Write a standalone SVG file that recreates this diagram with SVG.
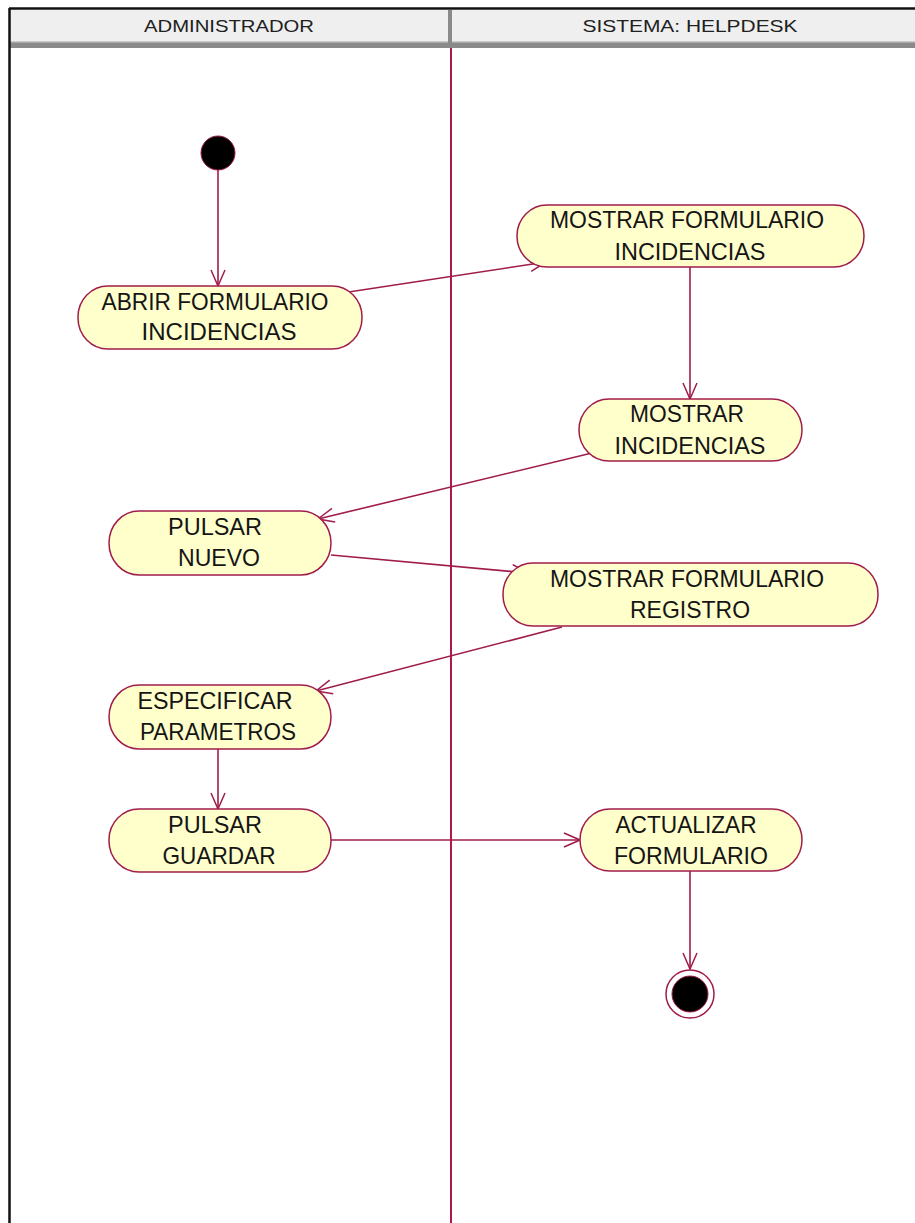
<svg xmlns="http://www.w3.org/2000/svg" width="915" height="1223" viewBox="0 0 915 1223">
  <style>
    .act { fill: #ffffcb; stroke: #a01c4c; stroke-width: 1.5; }
    .lbl { font-family: "Liberation Sans", Arial, sans-serif; font-size: 24px; fill: #151515; text-anchor: middle; }
    .hdr { font-family: "Liberation Sans", Arial, sans-serif; font-size: 17px; fill: #202020; text-anchor: middle; }
    .flow { stroke: #a01c4c; stroke-width: 1.6; fill: none; marker-end: url(#open); }
  </style>
  <defs>
    <marker id="open" viewBox="0 0 18 16" refX="17" refY="8" markerWidth="18" markerHeight="16" markerUnits="userSpaceOnUse" orient="auto">
      <path d="M1,1 L17,8 L1,15" fill="none" stroke="#a01c4c" stroke-width="1.5"/>
    </marker>
  </defs>

  <rect width="915" height="1223" fill="#ffffff"/>

  <!-- swimlane frame and headers -->
  <g id="lanes">
    <rect x="10" y="10" width="905" height="33" fill="#efefef"/>
    <rect x="10" y="42" width="905" height="6" fill="#8a8a8a"/>
    <rect x="10" y="41" width="905" height="1.5" fill="#c8c8c8"/>
    <rect x="448" y="10" width="4" height="33" fill="#8a8a8a"/>
    <line x1="9" y1="8.5" x2="915" y2="8.5" stroke="#111" stroke-width="2.5"/>
    <line x1="9.5" y1="8" x2="9.5" y2="1223" stroke="#111" stroke-width="2.5"/>
    <line x1="451" y1="48" x2="451" y2="1223" stroke="#b0174f" stroke-width="2"/>
    <text class="hdr" x="229" y="32" textLength="170" lengthAdjust="spacingAndGlyphs">ADMINISTRADOR</text>
    <text class="hdr" x="690" y="32" textLength="215" lengthAdjust="spacingAndGlyphs">SISTEMA: HELPDESK</text>
  </g>

  <!-- control flows -->
  <g id="connectors">
    <line class="flow" x1="218" y1="170" x2="218" y2="286"/>
    <line class="flow" x1="342" y1="293" x2="546" y2="262"/>
    <line class="flow" x1="690" y1="267" x2="690" y2="399"/>
    <line class="flow" x1="592" y1="453" x2="318" y2="519"/>
    <line class="flow" x1="331" y1="555" x2="528" y2="573"/>
    <line class="flow" x1="562" y1="627" x2="316" y2="691"/>
    <line class="flow" x1="218" y1="749" x2="218" y2="809"/>
    <line class="flow" x1="331" y1="840" x2="580" y2="840"/>
    <line class="flow" x1="690" y1="871" x2="690" y2="969"/>
  </g>

  <g id="start">
    <circle cx="218" cy="153" r="17" fill="#000" stroke="#a01c4c" stroke-width="1"/>
  </g>

  <g id="abrir-formulario">
    <rect class="act" x="78" y="286" width="284" height="63" rx="30" ry="31"/>
    <text class="lbl" x="215" y="310" textLength="227" lengthAdjust="spacingAndGlyphs">ABRIR FORMULARIO</text>
    <text class="lbl" x="219" y="340" textLength="155" lengthAdjust="spacingAndGlyphs">INCIDENCIAS</text>
  </g>

  <g id="mostrar-formulario-incidencias">
    <rect class="act" x="517" y="205" width="347" height="62" rx="30" ry="31"/>
    <text class="lbl" x="687" y="228" textLength="274" lengthAdjust="spacingAndGlyphs">MOSTRAR FORMULARIO</text>
    <text class="lbl" x="690" y="260" textLength="151" lengthAdjust="spacingAndGlyphs">INCIDENCIAS</text>
  </g>

  <g id="mostrar-incidencias">
    <rect class="act" x="579" y="399" width="223" height="62" rx="30" ry="31"/>
    <text class="lbl" x="687" y="422" textLength="114" lengthAdjust="spacingAndGlyphs">MOSTRAR</text>
    <text class="lbl" x="690" y="454" textLength="151" lengthAdjust="spacingAndGlyphs">INCIDENCIAS</text>
  </g>

  <g id="pulsar-nuevo">
    <rect class="act" x="109" y="511" width="222" height="64" rx="30" ry="32"/>
    <text class="lbl" x="215" y="535" textLength="94" lengthAdjust="spacingAndGlyphs">PULSAR</text>
    <text class="lbl" x="219" y="566" textLength="82" lengthAdjust="spacingAndGlyphs">NUEVO</text>
  </g>

  <g id="mostrar-formulario-registro">
    <rect class="act" x="503" y="563" width="375" height="63" rx="30" ry="31"/>
    <text class="lbl" x="687" y="587" textLength="274" lengthAdjust="spacingAndGlyphs">MOSTRAR FORMULARIO</text>
    <text class="lbl" x="690" y="618" textLength="120" lengthAdjust="spacingAndGlyphs">REGISTRO</text>
  </g>

  <g id="especificar-parametros">
    <rect class="act" x="109" y="685" width="222" height="64" rx="30" ry="32"/>
    <text class="lbl" x="215" y="709" textLength="155" lengthAdjust="spacingAndGlyphs">ESPECIFICAR</text>
    <text class="lbl" x="218" y="740" textLength="156" lengthAdjust="spacingAndGlyphs">PARAMETROS</text>
  </g>

  <g id="pulsar-guardar">
    <rect class="act" x="109" y="809" width="222" height="63" rx="30" ry="31"/>
    <text class="lbl" x="215" y="833" textLength="94" lengthAdjust="spacingAndGlyphs">PULSAR</text>
    <text class="lbl" x="219" y="864" textLength="113" lengthAdjust="spacingAndGlyphs">GUARDAR</text>
  </g>

  <g id="actualizar-formulario">
    <rect class="act" x="580" y="809" width="222" height="62" rx="30" ry="31"/>
    <text class="lbl" x="686" y="833" textLength="141" lengthAdjust="spacingAndGlyphs">ACTUALIZAR</text>
    <text class="lbl" x="691" y="864" textLength="154" lengthAdjust="spacingAndGlyphs">FORMULARIO</text>
  </g>

  <g id="end">
    <circle cx="690" cy="994" r="24" fill="#ffffff" stroke="#a01c4c" stroke-width="1.5"/>
    <circle cx="690" cy="994" r="18" fill="#000" stroke="#a01c4c" stroke-width="1"/>
  </g>
</svg>
